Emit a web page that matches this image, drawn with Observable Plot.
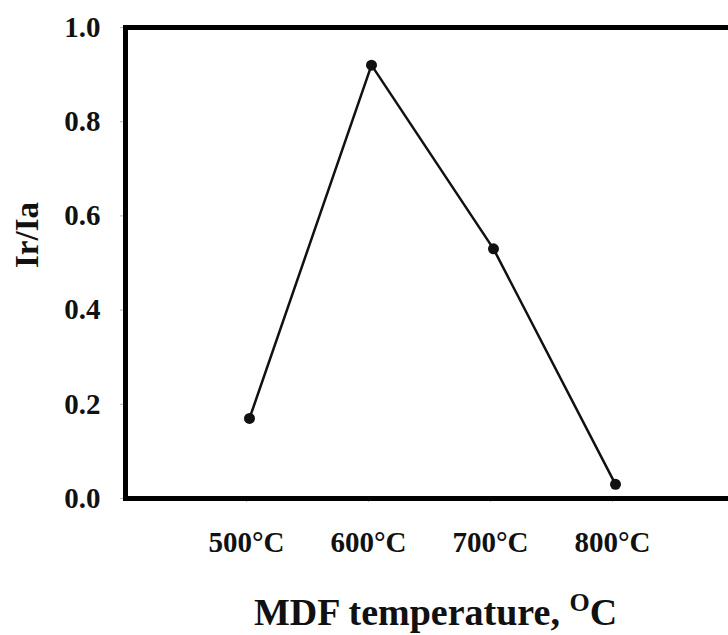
<!DOCTYPE html>
<html>
<head>
<meta charset="utf-8">
<script src="https://cdn.jsdelivr.net/npm/d3@7"></script>
<script src="https://cdn.jsdelivr.net/npm/@observablehq/plot@0.6"></script>
<style>
  html, body { margin: 0; padding: 0; background: #fff; overflow: hidden; }
  #wrap { position: relative; width: 728px; height: 635px; overflow: hidden; }
  #chart svg { max-width: none !important; }
  #title {
    position: absolute; left: 0; width: 871px; top: 589px; text-align: center;
    font-family: "Liberation Serif", "Times New Roman", serif; font-weight: bold;
    font-size: 38px; line-height: 46px; color: #111; white-space: nowrap;
  }
  #title sup { font-size: 26px; vertical-align: 0; position: relative; top: -14px; }
</style>
</head>
<body>
<div id="wrap"><div id="chart"></div><div id="title">MDF temperature, <sup>O</sup>C</div></div>
<script>
const categories = ["500°C", "600°C", "700°C", "800°C"];
const ratio = [0.17, 0.92, 0.53, 0.03];
const yTicks = [0, 0.2, 0.4, 0.6, 0.8, 1.0];
const yLabel = "Ir/Ia";

const data = categories.map((c, i) => ({cat: c, v: ratio[i]}));
const font = "'Liberation Serif', 'Times New Roman', serif";

const chart = Plot.plot({
  width: 740,
  height: 570,
  marginLeft: 125,
  marginRight: 2,
  marginTop: 27,
  marginBottom: 72,
  style: {fontFamily: font, fontWeight: "bold", fontSize: "29px", color: "#111", background: "#fff", maxWidth: "none"},
  x: {type: "point", domain: categories, padding: 1},
  y: {domain: [0, 1]},
  marks: [
    Plot.axisY({ticks: yTicks, tickFormat: d3.format(".1f"), tickSize: 5, tickPadding: 20, stroke: "#bbb", label: null, fontSize: 29}),
    Plot.axisX({tickSize: 4, tickPadding: 29, stroke: "#bbb", label: null, fontSize: 29, dx: -3}),
    Plot.text([yLabel], {frameAnchor: "left", dx: -98, dy: 5, rotate: -90, text: d => d, fontSize: 33, fontWeight: "bold", fill: "#111"}),
    Plot.line(data, {x: "cat", y: "v", stroke: "#111", strokeWidth: 2.5}),
    Plot.dot(data, {x: "cat", y: "v", r: 5.5, fill: "#111", stroke: "none"}),
    Plot.frame({stroke: "#000", strokeWidth: 5})
  ]
});
chart.style.maxWidth = "none";
document.getElementById("chart").appendChild(chart);
</script>
</body>
</html>
